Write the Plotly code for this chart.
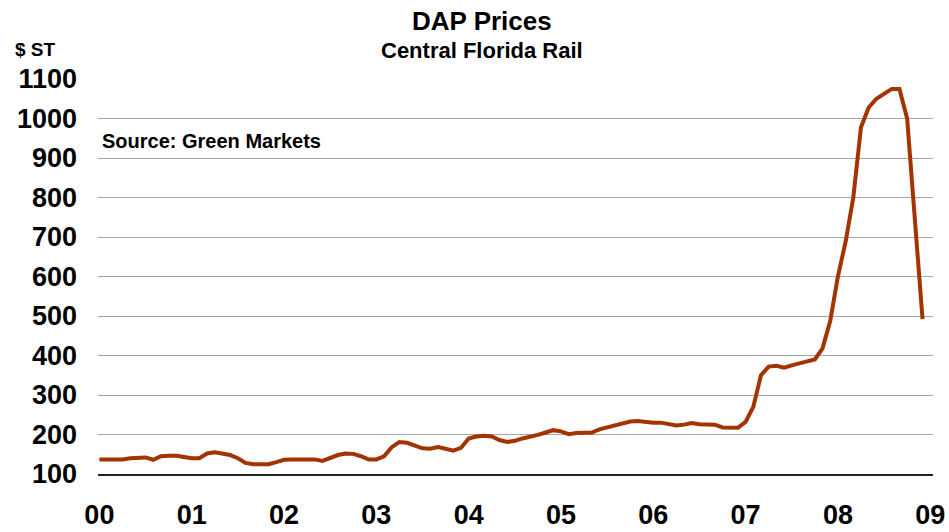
import plotly.graph_objects as go

# Monthly DAP prices, Central Florida rail, $/short ton, Jan 2000 - Dec 2008
prices = [
    137, 137, 137, 137, 140, 142, 142, 136, 145, 146, 146, 143,   # 2000
    140, 140, 152, 155, 151, 148, 140, 128, 125, 125, 125, 130,   # 2001
    136, 137, 137, 137, 137, 133, 140, 148, 152, 151, 145, 137,   # 2002
    137, 145, 168, 181, 179, 173, 165, 164, 168, 164, 159, 166,   # 2003
    190, 195, 197, 195, 186, 181, 184, 190, 194, 199, 205, 211,   # 2004
    208, 201, 204, 205, 205, 213, 218, 222, 228, 233, 234, 231,   # 2005
    230, 230, 227, 223, 225, 229, 226, 226, 225, 218, 217, 217,   # 2006
    232, 270, 350, 372, 374, 369, 375, 381, 385, 390, 418, 487,   # 2007
    600, 688, 800, 978, 1028, 1050, 1062, 1075, 1075, 1000, 745, 492,  # 2008
]
months = [i / 12 for i in range(len(prices))]

year_ticks = list(range(10))
year_labels = ["00", "01", "02", "03", "04", "05", "06", "07", "08", "09"]
y_ticks = [100, 200, 300, 400, 500, 600, 700, 800, 900, 1000, 1100]

FONT = "Liberation Sans, Arial, sans-serif"

W, H = 949, 532
L, T = 98, 79
R = W - 933
B = H - 474

fig = go.Figure()
fig.add_trace(go.Scatter(
    x=months, y=prices, mode="lines",
    line=dict(color="#A33300", width=4),
    hoverinfo="skip",
))

def px_ann(text, x, y, size, anchor):
    plot_w = W - L - R
    plot_h = H - T - B
    return dict(text=text, x=(x - L) / plot_w, y=((H - y) - B) / plot_h,
                xref="paper", yref="paper", showarrow=False,
                font=dict(size=size, family=FONT, color="black"),
                xanchor=anchor, yanchor="middle")

fig.update_layout(
    width=W, height=H,
    margin=dict(l=L, r=R, t=T, b=B, autoexpand=False),
    paper_bgcolor="white", plot_bgcolor="white",
    showlegend=False,
    font=dict(family=FONT, color="black"),
    xaxis=dict(
        range=[-0.015, 9.03], tickvals=year_ticks, ticktext=year_labels,
        showgrid=False, zeroline=False, automargin=False,
        showline=True, linecolor="#222222", linewidth=2,
        ticks="", tickfont=dict(size=27, weight="bold", family=FONT),
        ticklabelstandoff=16,
    ),
    yaxis=dict(
        range=[100, 1100], tickvals=y_ticks, automargin=False,
        showgrid=True, gridcolor="#A6A6A6", gridwidth=1,
        zeroline=False, showline=False, ticks="",
        tickfont=dict(size=27, weight="bold", family=FONT),
        ticklabelstandoff=20,
    ),
    annotations=[
        px_ann("<b>DAP Prices</b>", 482, 21, 26, "center"),
        px_ann("<b>Central Florida Rail</b>", 482, 50, 22, "center"),
        px_ann("<b>$ ST</b>", 13, 49, 19, "left"),
        px_ann("<b>Source: Green Markets</b>", 100, 141, 20, "left"),
    ],
)

fig.write_html(
    "out.html",
    config={"displayModeBar": False},
    post_script="document.body.style.margin='0';document.body.style.overflow='hidden';",
)
